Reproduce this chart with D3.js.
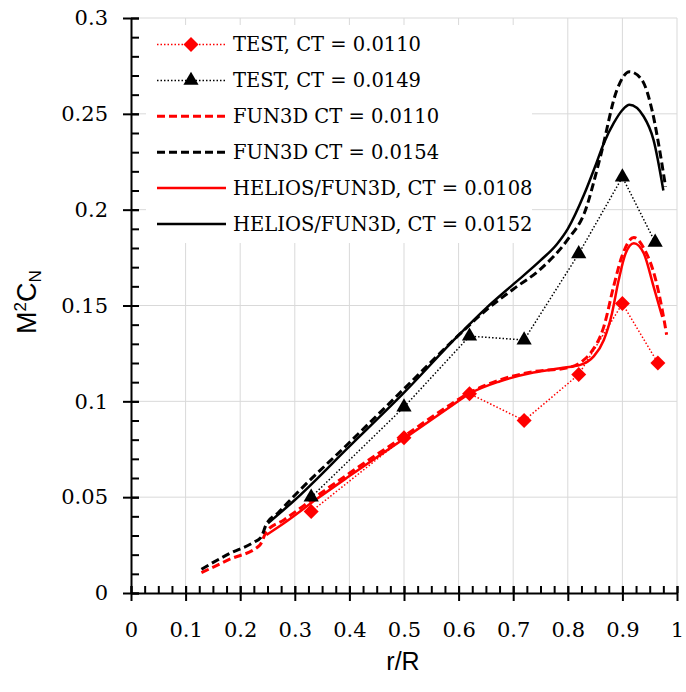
<!DOCTYPE html>
<html>
<head>
<meta charset="utf-8">
<script src="https://cdn.jsdelivr.net/npm/d3@7"></script>
<style>
  body { margin: 0; background: #fff; }
  .grid line { stroke: #d9d9d9; stroke-width: 1; }
  .axis path, .axis line { stroke: #000; stroke-width: 2; }
  .axis text { font-family: "DejaVu Serif", serif; font-size: 21px; fill: #000; }
  .legend text { font-family: "DejaVu Serif", serif; font-size: 19.5px; fill: #000; }
  .title { font-family: "Liberation Sans", Arial, sans-serif; font-size: 25px; fill: #000; }
</style>
</head>
<body>
<div id="chart"></div>
<script>
// tick values and labels
const xTicks = [0, 0.1, 0.2, 0.3, 0.4, 0.5, 0.6, 0.7, 0.8, 0.9, 1];
const xTickLabels = ["0", "0.1", "0.2", "0.3", "0.4", "0.5", "0.6", "0.7", "0.8", "0.9", "1"];
const yTicks = [0, 0.05, 0.1, 0.15, 0.2, 0.25, 0.3];
const yTickLabels = ["0", "0.05", "0.1", "0.15", "0.2", "0.25", "0.3"];

// wind tunnel test points
const test110R = [0.33, 0.5, 0.62, 0.72, 0.82, 0.9, 0.965];
const test110V = [0.0425, 0.081, 0.104, 0.090, 0.114, 0.151, 0.120];
const test149R = [0.33, 0.5, 0.62, 0.72, 0.82, 0.9, 0.96];
const test149V = [0.050, 0.097, 0.134, 0.132, 0.177, 0.217, 0.183];

// FUN3D CT = 0.0110 (red dashed)
const fun110R = [0.129, 0.18, 0.236, 0.248, 0.28, 0.34, 0.4, 0.5, 0.584, 0.62, 0.676, 0.737, 0.8, 0.829, 0.841, 0.866, 0.884, 0.899, 0.921, 0.939, 0.961, 0.973, 0.981];
const fun110V = [0.0106, 0.0175, 0.025, 0.032, 0.0381, 0.0505, 0.0625, 0.0818, 0.0981, 0.1045, 0.1112, 0.1155, 0.1175, 0.1215, 0.125, 0.139, 0.16, 0.1755, 0.1855, 0.18, 0.1634, 0.1477, 0.1347];

// FUN3D CT = 0.0154 (black dashed)
const fun154R = [0.129, 0.18, 0.225, 0.238, 0.248, 0.27, 0.3, 0.4, 0.5, 0.6, 0.65, 0.7, 0.75, 0.8, 0.83, 0.86, 0.89, 0.913, 0.935, 0.955, 0.97, 0.979];
const fun154V = [0.0124, 0.0205, 0.0265, 0.029, 0.036, 0.042, 0.051, 0.0785, 0.1065, 0.1345, 0.1475, 0.1585, 0.169, 0.1845, 0.198, 0.228, 0.2625, 0.272, 0.268, 0.251, 0.228, 0.212];

// HELIOS/FUN3D CT = 0.0108 (red solid)
const hel108R = [0.248, 0.28, 0.34, 0.4, 0.5, 0.584, 0.62, 0.676, 0.737, 0.786, 0.823, 0.847, 0.866, 0.881, 0.893, 0.906, 0.921, 0.939, 0.957, 0.973];
const hel108V = [0.0303, 0.0364, 0.049, 0.061, 0.0805, 0.097, 0.104, 0.1105, 0.115, 0.1173, 0.119, 0.1233, 0.132, 0.146, 0.163, 0.1773, 0.1825, 0.1773, 0.16, 0.144];

// HELIOS/FUN3D CT = 0.0152 (black solid)
const hel152R = [0.251, 0.3, 0.4, 0.5, 0.6, 0.65, 0.7, 0.75, 0.78, 0.8, 0.83, 0.85, 0.866, 0.884, 0.9, 0.913, 0.939, 0.957, 0.975];
const hel152V = [0.0364, 0.0485, 0.0765, 0.1045, 0.1345, 0.1485, 0.161, 0.1735, 0.182, 0.190, 0.208, 0.2225, 0.2347, 0.2451, 0.252, 0.2547, 0.2486, 0.2364, 0.210];

const W = 686, H = 692;
const margin = {top: 18, right: 9, bottom: 99, left: 131};

const svg = d3.select("#chart").append("svg")
    .attr("width", W)
    .attr("height", H);

const x = d3.scaleLinear().domain([0, 1]).range([margin.left, W - margin.right]);
const y = d3.scaleLinear().domain([0, 0.3]).range([H - margin.bottom, margin.top]);

const zip = (rs, vs) => rs.map((r, i) => ({r, v: vs[i]}));

// grid
const grid = svg.append("g").attr("class", "grid");
grid.selectAll(".gx").data(xTicks.slice(1)).enter().append("line")
    .attr("x1", d => x(d)).attr("x2", d => x(d))
    .attr("y1", y(0)).attr("y2", y(0.3));
grid.selectAll(".gy").data(yTicks.slice(1)).enter().append("line")
    .attr("x1", x(0)).attr("x2", x(1))
    .attr("y1", d => y(d)).attr("y2", d => y(d));

// axes: minor ticks inside, major ticks crossing
const xMinor = d3.range(0, 1.0001, 0.025);
const yMinor = d3.range(0, 0.3001, 0.01);

svg.append("g").attr("class", "axis")
    .attr("transform", `translate(0,${y(0)})`)
    .call(d3.axisBottom(x).tickValues(xMinor).tickSize(-7).tickFormat(""))
    .call(g => g.select(".domain").remove());
svg.append("g").attr("class", "axis")
    .attr("transform", `translate(${x(0)},0)`)
    .call(d3.axisLeft(y).tickValues(yMinor).tickSize(-8).tickFormat(""))
    .call(g => g.select(".domain").remove());

svg.append("g").attr("class", "axis")
    .attr("transform", `translate(0,${y(0)})`)
    .call(d3.axisBottom(x).tickValues(xTicks).tickSizeInner(8).tickSizeOuter(0)
        .tickPadding(21).tickFormat((d, i) => xTickLabels[i]))
    .call(g => g.selectAll(".tick line").attr("y1", -7));

svg.append("g").attr("class", "axis")
    .attr("transform", `translate(${x(0)},0)`)
    .call(d3.axisLeft(y).tickValues(yTicks).tickSizeInner(8).tickSizeOuter(0)
        .tickPadding(15).tickFormat((d, i) => yTickLabels[i]))
    .call(g => g.selectAll(".tick line").attr("x1", 8));

// series
const line = d3.line().x(d => x(d.r)).y(d => y(d.v)).curve(d3.curveMonotoneX);
const straight = d3.line().x(d => x(d.r)).y(d => y(d.v));

const series = [
  {data: zip(fun110R, fun110V), color: "#ff0000", width: 3, dash: "8,4", gen: line},
  {data: zip(fun154R, fun154V), color: "#000000", width: 3, dash: "8,4", gen: line},
  {data: zip(hel108R, hel108V), color: "#ff0000", width: 2.5, dash: null, gen: line},
  {data: zip(hel152R, hel152V), color: "#000000", width: 2.5, dash: null, gen: line},
  {data: zip(test110R, test110V), color: "#ff0000", width: 1.5, dash: "1.5,2", gen: straight},
  {data: zip(test149R, test149V), color: "#000000", width: 1.5, dash: "1.5,2", gen: straight}
];

series.forEach(s => {
  svg.append("path")
      .datum(s.data)
      .attr("fill", "none")
      .attr("stroke", s.color)
      .attr("stroke-width", s.width)
      .attr("stroke-dasharray", s.dash)
      .attr("d", s.gen);
});

const diamond = d3.symbol().type(d3.symbolSquare).size(112);
const triangle = d3.symbol().type(d3.symbolTriangle).size(100);

svg.append("g").selectAll("path").data(zip(test110R, test110V)).enter().append("path")
    .attr("d", diamond)
    .attr("fill", "#ff0000")
    .attr("transform", d => `translate(${x(d.r)},${y(d.v)}) rotate(45)`);
svg.append("g").selectAll("path").data(zip(test149R, test149V)).enter().append("path")
    .attr("d", triangle)
    .attr("fill", "#000")
    .attr("transform", d => `translate(${x(d.r)},${y(d.v)})`);

// legend
const legendItems = [
  {label: "TEST, CT = 0.0110", color: "#ff0000", width: 1.5, dash: "1.5,2", marker: "diamond"},
  {label: "TEST, CT = 0.0149", color: "#000000", width: 1.5, dash: "1.5,2", marker: "triangle"},
  {label: "FUN3D CT = 0.0110", color: "#ff0000", width: 3, dash: "8,4"},
  {label: "FUN3D CT = 0.0154", color: "#000000", width: 3, dash: "8,4"},
  {label: "HELIOS/FUN3D, CT = 0.0108", color: "#ff0000", width: 2.5, dash: null},
  {label: "HELIOS/FUN3D, CT = 0.0152", color: "#000000", width: 2.5, dash: null}
];

const legend = svg.append("g").attr("class", "legend");
legend.append("rect")
    .attr("x", 146).attr("y", 25).attr("width", 386).attr("height", 218)
    .attr("fill", "#fff");

legendItems.forEach((d, i) => {
  const g = legend.append("g").attr("transform", `translate(0,${44.5 + i * 35.9})`);
  g.append("line")
      .attr("x1", 157).attr("x2", 226).attr("y1", 0).attr("y2", 0)
      .attr("stroke", d.color)
      .attr("stroke-width", d.width)
      .attr("stroke-dasharray", d.dash);
  if (d.marker === "diamond") {
    g.append("path").attr("d", diamond).attr("fill", d.color)
        .attr("transform", "translate(191,0) rotate(45)");
  } else if (d.marker === "triangle") {
    g.append("path").attr("d", triangle).attr("fill", d.color)
        .attr("transform", "translate(191,0)");
  }
  g.append("text")
      .attr("x", 233).attr("y", 0).attr("dy", "0.35em")
      .text(d.label);
});

// axis titles
svg.append("text")
    .attr("class", "title")
    .attr("x", 403).attr("y", 670)
    .attr("text-anchor", "middle")
    .text("r/R");

const yt = svg.append("text")
    .attr("class", "title")
    .style("font-size", "27px")
    .attr("transform", "translate(36,302) rotate(-90)")
    .attr("text-anchor", "middle");
yt.append("tspan").text("M");
yt.append("tspan").style("font-size", "17px").attr("dy", "-10").text("2");
yt.append("tspan").attr("dy", "10").text("C");
yt.append("tspan").style("font-size", "17px").attr("dy", "5").text("N");
</script>
</body>
</html>
